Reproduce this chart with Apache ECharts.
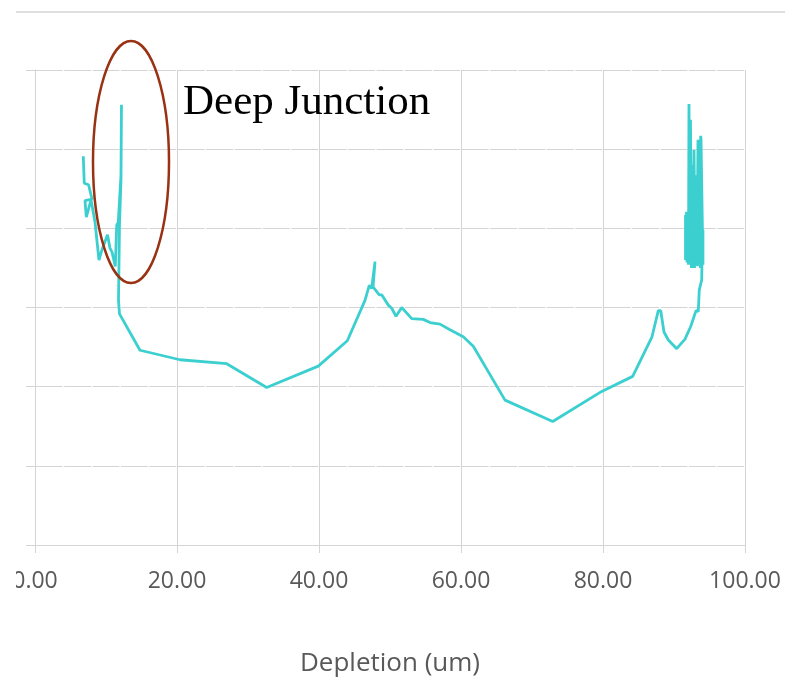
<!DOCTYPE html>
<html>
<head>
<meta charset="utf-8">
<title>Depletion profile</title>
<script src="https://cdn.jsdelivr.net/npm/echarts@6/dist/echarts.min.js"></script>
<style>
  html, body { margin: 0; padding: 0; background: #ffffff; }
  #chart { width: 785px; height: 700px; }
</style>
</head>
<body>
<div id="chart"></div>
<script>
// Depletion depth (um) of each measured point, in measurement order
const depletionUm = [
  6.80, 6.94, 7.54, 8.03, 7.04, 7.23, 7.89, 8.45, 9.01, 9.44, 10.21, 10.56, 10.85, 11.31,
  11.51, 11.73, 12.11, 12.18, 12.11, 11.90, 11.76, 11.90,
  14.79, 20.42, 27.00, 32.63, 39.90, 43.99, 46.48, 47.08, 47.42, 47.89, 47.61, 48.49,
  48.83, 49.76, 50.24, 50.85, 51.65, 53.06, 54.69, 55.63, 57.04, 58.45, 60.32, 61.73,
  66.20, 72.92, 79.82, 84.18, 86.90, 87.79, 88.13, 88.59, 89.20, 90.38, 91.55, 92.35,
  93.10, 93.42, 93.56, 93.90,
  93.94, 93.76, 93.59, 93.38, 93.24, 93.10, 92.96, 92.82, 92.68, 92.61, 92.46, 92.32,
  92.25, 92.11, 92.04, 91.97, 91.83, 91.76, 91.69, 91.62, 91.62, 91.76, 91.83, 91.97,
  92.04, 92.18, 92.25, 92.39, 92.46, 92.54, 92.68, 92.82, 92.89, 93.03, 93.10, 93.24,
  93.31, 93.45, 93.52, 93.66, 93.73, 93.87, 93.94, 93.80, 94.08, 94.08, 94.01
];

// Profile level at each point (value axis, unlabelled)
const profileLevel = [
  4.91, 4.57, 4.55, 4.37, 4.35, 4.14, 4.36, 4.08, 3.60, 3.73, 3.92, 3.75, 3.70, 3.52,
  4.04, 4.08, 4.67, 5.56, 4.61, 4.04, 3.09, 2.92,
  2.46, 2.34, 2.29, 1.99, 2.26, 2.58, 3.09, 3.28, 3.24, 3.58, 3.26, 3.16,
  3.16, 3.03, 2.99, 2.89, 3.00, 2.86, 2.85, 2.81, 2.79, 2.72, 2.63, 2.51,
  1.83, 1.56, 1.94, 2.13, 2.63, 2.96, 2.96, 2.69, 2.59, 2.48, 2.60, 2.76,
  2.96, 2.95, 3.22, 3.35,
  3.57, 5.17, 3.66, 5.12, 3.57, 4.67, 3.54, 4.99, 3.50, 4.80, 3.60, 5.37,
  3.63, 5.57, 3.57, 4.17, 3.60, 4.21, 3.63, 4.17, 3.60, 4.17, 3.57, 4.21,
  3.54, 4.29, 3.57, 4.17, 3.50, 4.36, 3.57, 4.17, 3.50, 4.11, 3.57, 4.17,
  3.52, 4.04, 3.57, 4.17, 3.50, 3.98, 3.57, 5.15, 3.54, 3.98, 3.57
];

// Axis ticks
const xTicks = [0, 20, 40, 60, 80, 100];
const yTicks = [0, 1, 2, 3, 4, 5, 6];

const annotationText = 'Deep Junction';
const xAxisTitle = 'Depletion (um)';

const points = depletionUm.map((d, i) => [d, profileLevel[i]]);

const gridColor = '#d4d4d4';
const chart = echarts.init(document.getElementById('chart'), null, { renderer: 'canvas' });

chart.setOption({
  animation: false,
  backgroundColor: '#ffffff',
  grid: { left: 35, right: 40, top: 70, bottom: 155, containLabel: false },
  xAxis: {
    type: 'value',
    min: xTicks[0],
    max: xTicks[xTicks.length - 1],
    interval: xTicks[1] - xTicks[0],
    name: xAxisTitle,
    nameLocation: 'middle',
    nameGap: 106,
    nameTextStyle: { fontFamily: 'Open Sans', fontSize: 26, color: '#595959' },
    axisLine: { show: true, lineStyle: { color: gridColor, width: 1 } },
    axisTick: { show: true, inside: false, length: 8, lineStyle: { color: gridColor } },
    axisLabel: {
      margin: 25,
      fontFamily: 'Open Sans',
      fontSize: 23,
      color: '#595959',
      formatter: v => v.toFixed(2)
    },
    splitLine: { show: true, lineStyle: { color: gridColor, width: 1 } }
  },
  yAxis: {
    type: 'value',
    min: yTicks[0],
    max: yTicks[yTicks.length - 1],
    interval: yTicks[1] - yTicks[0],
    axisLine: { show: true, lineStyle: { color: gridColor, width: 1 } },
    axisTick: { show: true, inside: false, length: 9, lineStyle: { color: gridColor } },
    axisLabel: { show: false },
    splitLine: {
      show: true,
      lineStyle: { color: gridColor, width: 1, type: [26.9, 1.5], dashOffset: 27.65 }
    }
  },
  series: [{
    type: 'line',
    data: points,
    showSymbol: false,
    symbol: 'none',
    smooth: false,
    lineStyle: { color: '#3ccfcf', width: 2.8 },
    z: 3
  }],
  graphic: [
    {
      type: 'line',
      z: 50,
      shape: { x1: 16, y1: 12, x2: 785, y2: 12 },
      style: { stroke: '#d4d4d4', lineWidth: 1.5 }
    },
    {
      type: 'text',
      z: 50,
      style: {
        x: 183, y: 103,
        text: annotationText,
        font: '43px "Liberation Serif"',
        fill: '#000000',
        verticalAlign: 'middle',
        align: 'left'
      }
    },
    {
      type: 'ellipse',
      z: 60,
      shape: { cx: 131, cy: 162, rx: 38, ry: 121 },
      style: { fill: null, stroke: '#983213', lineWidth: 2.5 }
    },
    {
      type: 'rect',
      z: 100,
      shape: { x: 0, y: 560, width: 16, height: 45 },
      style: { fill: '#ffffff' }
    }
  ]
});
</script>
</body>
</html>
